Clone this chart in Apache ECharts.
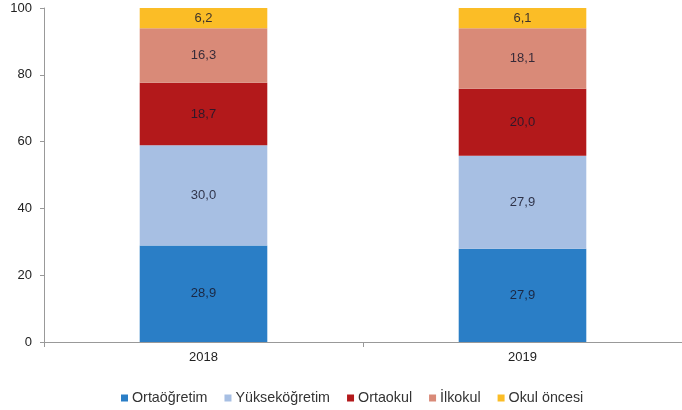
<!DOCTYPE html>
<html><head><meta charset="utf-8">
<script src="https://cdn.jsdelivr.net/npm/echarts@6/dist/echarts.min.js"></script>
<style>html,body{margin:0;padding:0;background:#fff}#c{width:682px;height:410px}</style>
</head><body><div id="c"></div>
<script>
var categories = ['2018', '2019'];
var seriesNames = ['Ortaöğretim', 'Yükseköğretim', 'Ortaokul', 'İlkokul', 'Okul öncesi'];
var ortaogretim = [28.9, 27.9];
var yuksekogretim = [30.0, 27.9];
var ortaokul = [18.7, 20.0];
var ilkokul = [16.3, 18.1];
var okulOncesi = [6.2, 6.1];
var yTicks = [0, 20, 40, 60, 80, 100];

var values = [ortaogretim, yuksekogretim, ortaokul, ilkokul, okulOncesi];
var colors = ['#2A7EC6', '#A7BFE3', '#B3191B', '#D98A78', '#FBBD26'];
var font = 'Liberation Sans, Arial, sans-serif';

var chart = echarts.init(document.getElementById('c'));
chart.setOption({
  animation: false,
  color: colors,
  legend: {
    top: 386, left: 116, itemWidth: 7, itemHeight: 7, itemGap: 17,
    icon: 'rect',
    textStyle: {color: '#333', fontSize: 14.3, fontFamily: font, padding: [0, 0, 0, -1]},
    data: seriesNames
  },
  grid: {left: 44, top: 8, width: 644, height: 334},
  xAxis: {
    type: 'category', data: categories,
    axisLine: {lineStyle: {color: '#999'}},
    axisTick: {show: true, lineStyle: {color: '#999'}},
    axisLabel: {color: '#222', fontSize: 13, fontFamily: font, margin: 9}
  },
  yAxis: {
    type: 'value', min: yTicks[0], max: yTicks[yTicks.length - 1], interval: 20,
    splitLine: {show: false},
    axisLine: {show: true, lineStyle: {color: '#999'}},
    axisTick: {show: true, length: 4, lineStyle: {color: '#999'}},
    axisLabel: {color: '#222', fontSize: 13, fontFamily: font, margin: 12}
  },
  series: seriesNames.map(function (n, i) {
    return {
      name: n, type: 'bar', stack: 'total', barWidth: '40%',
      data: values[i],
      label: {
        show: true, position: 'inside', color: 'rgba(25,25,45,0.85)', fontSize: 13,
        fontFamily: font,
        formatter: function (p) { return p.value.toFixed(1).replace('.', ','); }
      }
    };
  })
});
</script></body></html>
